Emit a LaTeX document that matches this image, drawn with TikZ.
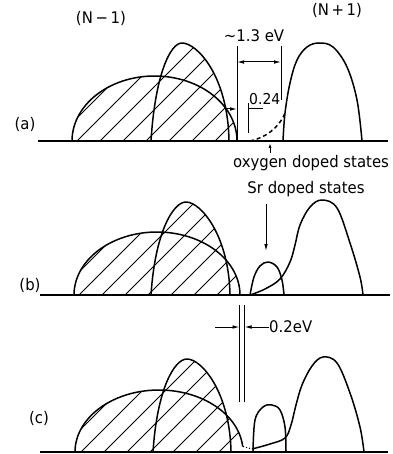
\documentclass[tikz,border=0pt]{standalone}
\usepackage{fontspec}
\setmainfont[FakeStretch=0.93]{DejaVu Sans}
\usetikzlibrary{arrows.meta, positioning}

\begin{document}
\begin{tikzpicture}[
    x=1pt, y=-1pt,
    >={Latex[length=7pt,width=3.6pt]},
    curve/.style={line width=1.5pt, line join=round},
    axis/.style={line width=1.3pt},
    hatch/.style={line width=1pt},
    dim/.style={line width=1pt},
    lbl/.style={font=\fontsize{16pt}{18pt}\selectfont, inner sep=0pt},
    numlbl/.style={font=\fontsize{15pt}{17pt}\selectfont, inner sep=0pt},
    panellbl/.style={font=\fontsize{16pt}{18pt}\selectfont, inner sep=0pt},
]
\useasboundingbox (0,0) rectangle (392,454);

% ─── Band titles ───
\node[panellbl] at (101,18) (lower) {(N\,−\,1)};
\node[panellbl] at (337,10) (upper) {(N\,+\,1)};

% ─── Panel (a) ───
\node[panellbl] at (25,124) (pa) {(a)};
\draw[axis] (38,141) -- (388,141);
\begin{scope}
    \clip plot[domain=180:360, samples=60] ({154.5+82.5*cos(\x)}, {141+65*sin(\x)}) -- cycle
          (151,141) .. controls (155,76) and (170,43) .. (182,43) .. controls (197,43) and (228,76) .. (229,141) -- cycle;
    \foreach \c in {54,77,...,260}
        \draw[hatch] (\c-10,151) -- ++(130,-130);
\end{scope}
\draw[curve] plot[domain=180:360, samples=60] ({154.5+82.5*cos(\x)}, {141+65*sin(\x)});
\draw[curve] (151,141) .. controls (155,76) and (170,43) .. (182,43) .. controls (197,43) and (228,76) .. (229,141);
\draw[curve] plot[smooth, tension=0.6] coordinates {(283,141) (285,113) (290,83) (297,60) (307,47) (319,43) (333,47) (347,67) (357,100) (362,141)};
\draw[curve, dash pattern=on 4pt off 3pt] (250,141) .. controls (265,138) and (279,128) .. (285,113);

% gap of 1.3 eV
\coordinate (edgeTop) at (237,46);
\coordinate (edgeBot) at (237,141);
\coordinate (condTop) at (281,46);
\coordinate (condBot) at (281,100);
\coordinate (wideL) at (237,62);
\coordinate (wideR) at (281,62);
\draw[dim] (edgeTop) -- (edgeBot);
\draw[dim] (condTop) -- (condBot);
\draw[dim, <->] (wideL) -- (wideR);
\node[lbl] at (254,36) (gapwide) {∼1.3 eV};

% gap of 0.24
\coordinate (nearTail) at (225,109);
\coordinate (nearTip) at (237,109);
\coordinate (oxyEdgeTop) at (248,103);
\coordinate (oxyEdge) at (248,109);
\coordinate (oxyEdgeBot) at (248,133);
\coordinate (oxyTick) at (263,109);
\draw[dim, ->] (nearTail) -- (nearTip);
\draw[dim] (oxyEdgeTop) -- (oxyEdgeBot);
\draw[dim] (oxyEdge) -- (oxyTick);
\node[numlbl, anchor=base west] at (249,105) (gapnear) {0.24};

% oxygen doped states
\node[lbl] at (311,163) (oxy) {oxygen doped states};
\coordinate (oxyTail) at (270,153);
\coordinate (oxyTip) at (270,143);
\draw[dim, ->, >={Latex[length=5pt,width=3pt]}] (oxyTail) -- (oxyTip);

% ─── Panel (b) ───
\node[lbl] at (306,189) (sr) {Sr doped states};
\coordinate (srTail) at (266,204);
\coordinate (srTip) at (266,251);
\draw[dim, ->] (srTail) -- (srTip);

\node[panellbl] at (30,285) (pb) {(b)};
\draw[axis] (40,295) -- (390,295);
\begin{scope}
    \clip plot[domain=180:360, samples=60] ({157+83*cos(\x)}, {295+63*sin(\x)}) -- cycle
          (151,295) .. controls (155,233) and (173,202) .. (186,202) .. controls (201,202) and (229,236) .. (230,295) -- cycle;
    \foreach \c in {56,79,...,262}
        \draw[hatch] (\c-10,305) -- ++(130,-130);
\end{scope}
\draw[curve] plot[domain=180:360, samples=60] ({157+83*cos(\x)}, {295+63*sin(\x)});
\draw[curve] (151,295) .. controls (155,233) and (173,202) .. (186,202) .. controls (201,202) and (229,236) .. (230,295);
\draw[curve] plot[smooth, tension=0.6] coordinates {(250,295) (254,277) (260,266) (268,262) (277,267) (282,280) (284,295)};
\draw[curve] plot[smooth, tension=0.6] coordinates {(250,295) (265,289) (280,279) (290,262) (295,245) (300,225) (310,207) (322,200) (337,208) (350,243) (360,277) (363,295)};

% ─── Panel (c) ───
\coordinate (splitLtop) at (239.5,305);
\coordinate (splitLbot) at (239.5,402);
\coordinate (splitRtop) at (244.5,305);
\coordinate (splitRbot) at (244.5,402);
\draw[dim] (splitLtop) -- (splitLbot);
\draw[dim] (splitRtop) -- (splitRbot);
\coordinate (narrowTail) at (215,327);
\coordinate (narrowTipL) at (239.5,327);
\coordinate (narrowTipR) at (244.5,327);
\node[lbl, anchor=west] at (269,327) (gapsmall) {0.2eV};
\draw[dim, ->] (narrowTail) -- (narrowTipL);
\draw[dim, ->] (gapsmall.west) -- (narrowTipR);

\node[panellbl] at (39,418) (pc) {(c)};
\draw[axis] (40,452) -- (388,452);
\begin{scope}
    \clip plot[domain=180:360, samples=60] ({159+84*cos(\x)}, {452+62*sin(\x)}) -- cycle
          (153,452) .. controls (157,390) and (174,359) .. (187,359) .. controls (202,359) and (230,393) .. (231,452) -- cycle;
    \foreach \c in {58,81,...,264}
        \draw[hatch] (\c-10,462) -- ++(130,-130);
\end{scope}
\draw[curve] plot[domain=180:355, samples=60] ({159+84*cos(\x)}, {452+62*sin(\x)});
\draw[curve] (153,452) .. controls (157,390) and (174,359) .. (187,359) .. controls (202,359) and (230,393) .. (231,452);
\draw[line width=1.1pt, dotted] (243,446.5) -- (252,449);
\draw[curve] plot[smooth, tension=0.6] coordinates {(253,452) (255,420) (263,407) (272,405) (280,410) (285,427) (286,452)};
\draw[curve] plot[smooth, tension=0.6] coordinates {(252,449) (270,444) (285,438) (291,425) (296,405) (302,385) (312,366) (323,357) (337,363) (350,393) (360,427) (364,452)};

\end{tikzpicture}
\end{document}
